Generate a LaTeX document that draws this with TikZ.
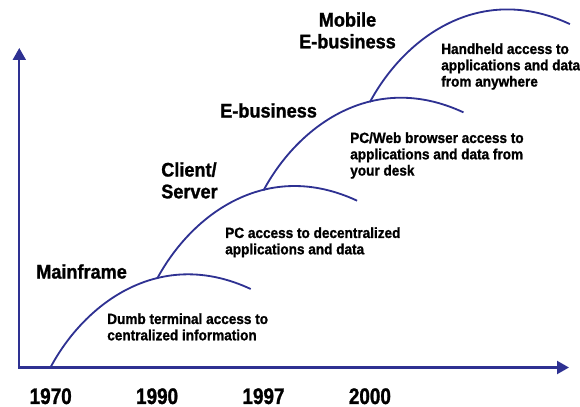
\documentclass[tikz,border=0pt]{standalone}
\usepackage{fontspec}
\setmainfont{Liberation Sans}[FakeStretch=0.92,BoldFont={Liberation Sans Bold},BoldFeatures={FakeBold=1.2}]
\newfontfamily\yearfont{Liberation Sans}[FakeStretch=0.84,BoldFont={Liberation Sans Bold},BoldFeatures={FakeBold=1.2}]
\usetikzlibrary{arrows.meta,positioning}
\definecolor{eraline}{RGB}{46,49,146}

\begin{document}
\begin{tikzpicture}[x=0.025cm,y=-0.025cm,
    era/.style={font=\bfseries\fontsize{14}{15.5}\selectfont,inner sep=0,align=left,anchor=north west},
    note/.style={font=\bfseries\fontsize{10.5}{11.6}\selectfont,inner sep=0,align=left,anchor=north west},
    year/.style={font=\yearfont\bfseries\fontsize{16}{16}\selectfont,inner sep=0,anchor=north},
    wave/.style={eraline,line width=1.3pt}]
    \useasboundingbox (0,0) rectangle (580,407);
    % Axes
    \draw[eraline,line width=1.5pt,{Triangle[width=9.2pt,length=8.5pt]}-{Triangle[width=9.2pt,length=8.5pt]}] (19.3,48) |- (569,367.5);
    % Waves and years
    \foreach \sx/\sy/\yr [count=\i] in {50.7/367/1970, 157.1/278.7/1990, 263.5/190.4/1997, 369.9/102.1/2000} {
        \coordinate (s\i) at (\sx,\sy);
        \draw[wave,shift={(\sx,\sy)}] (0,0) .. controls (35,-65) and (110,-120) .. (200,-78);
        \node[year] (y\i) at (\sx,388) {\yr};
    }
    % Eras
    \node[era] (main) at (36,264) {Mainframe};
    \node[era] (cs) at (161,162) {Client/\\Server};
    \node[era] (eb) at (220,103) {E-business};
    \node[era,anchor=north,align=center] (meb) at (347.5,12) {Mobile\\E-business};
    % Access notes
    \node[note] (dumb) at (107,313) {Dumb terminal access to\\centralized information};
    \node[note] (pc) at (225,227) {PC access to decentralized\\applications and data};
    \node[note] (web) at (350,132) {PC/Web browser access to\\applications and data from\\your desk};
    \node[note] (hand) at (441,43) {Handheld access to\\applications and data\\from anywhere};
\end{tikzpicture}
\end{document}
